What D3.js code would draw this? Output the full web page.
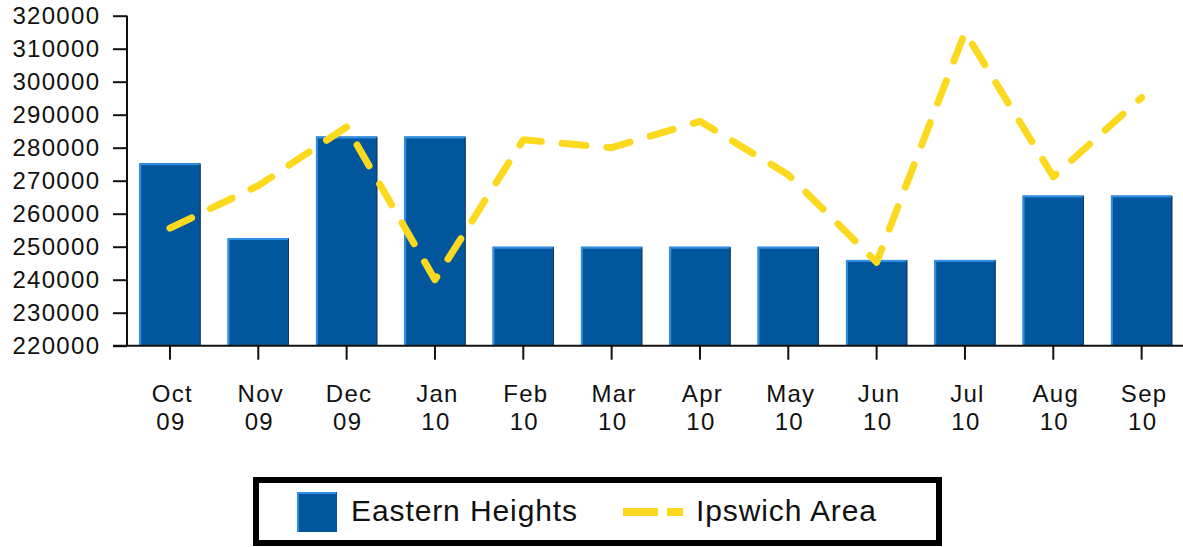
<!DOCTYPE html>
<html>
<head>
<meta charset="utf-8">
<script src="https://cdn.jsdelivr.net/npm/d3@7"></script>
<style>
  body { margin: 0; background: #fff; }
  svg { display: block; }
  .tick-label { font-family: "Liberation Sans", Arial, sans-serif; font-size: 24px; letter-spacing: 1.3px; fill: #111; }
  .legend-text { font-family: "Liberation Sans", Arial, sans-serif; font-size: 30px; letter-spacing: 0.9px; fill: #111; }
</style>
</head>
<body>
<script>
const months = ["Oct", "Nov", "Dec", "Jan", "Feb", "Mar", "Apr", "May", "Jun", "Jul", "Aug", "Sep"];
const years = ["09", "09", "09", "10", "10", "10", "10", "10", "10", "10", "10", "10"];
const easternHeights = [275300, 252600, 283400, 283400, 250000, 250000, 250000, 250000, 246000, 246000, 265500, 265500];
const ipswichArea = [255600, 268500, 286300, 240000, 282400, 280000, 288000, 271800, 245300, 315000, 271200, 295200];
const yTicks = [220000, 230000, 240000, 250000, 260000, 270000, 280000, 290000, 300000, 310000, 320000];
const seriesNames = ["Eastern Heights", "Ipswich Area"];

const W = 1183, H = 547;
const svg = d3.select("body").append("svg")
  .attr("width", W)
  .attr("height", H);

const x = d3.scaleBand()
  .domain(months)
  .range([125.8, 1185.8])
  .paddingInner(0.305)
  .paddingOuter(0.1525);

const y = d3.scaleLinear()
  .domain([220000, 320000])
  .range([345.7, 15.7]);

const barFill = "#02579c";
const barLight = "#2e8de4";
const lineColor = "#fcd91f";

// bars
const bars = svg.append("g").attr("class", "bars")
  .selectAll("g")
  .data(easternHeights)
  .enter().append("g");

bars.append("rect")
  .attr("x", (d, i) => x(months[i]))
  .attr("y", d => y(d))
  .attr("width", x.bandwidth())
  .attr("height", d => y(220000) - y(d))
  .attr("fill", barFill);

// light edge left + top
bars.append("path")
  .attr("d", (d, i) => {
    const x0 = x(months[i]) + 1, y0 = y(d) + 1;
    return `M${x0},${y(220000)}V${y0}H${x(months[i]) + x.bandwidth() - 1}`;
  })
  .attr("fill", "none")
  .attr("stroke", barLight)
  .attr("stroke-width", 2);

// dark edge on right
bars.append("line")
  .attr("x1", (d, i) => x(months[i]) + x.bandwidth() - 0.5)
  .attr("x2", (d, i) => x(months[i]) + x.bandwidth() - 0.5)
  .attr("y1", d => y(d) + 1)
  .attr("y2", y(220000))
  .attr("stroke", "#1b3554")
  .attr("stroke-width", 1);

// line series
const line = d3.line()
  .x((d, i) => x(months[i]) + x.bandwidth() / 2)
  .y(d => y(d));

svg.append("path")
  .datum(ipswichArea)
  .attr("d", line)
  .attr("fill", "none")
  .attr("stroke", lineColor)
  .attr("stroke-width", 7)
  .attr("stroke-linecap", "round")
  .attr("stroke-linejoin", "round")
  .attr("stroke-dasharray", "24,21");

// y axis
const yAxis = d3.axisLeft(y)
  .tickValues(yTicks)
  .tickSize(14)
  .tickPadding(12.7)
  .tickFormat(d3.format("d"));

const gy = svg.append("g")
  .attr("transform", "translate(127,0)")
  .call(yAxis);
gy.select(".domain").attr("d", `M0,${y(320000)}V${y(220000)}`).attr("stroke", "#111").attr("stroke-width", 2);
gy.selectAll(".tick line").attr("stroke", "#111").attr("stroke-width", 2);
gy.selectAll(".tick text").attr("class", "tick-label").attr("font-size", null).attr("font-family", null);

// x axis
const xAxis = d3.axisBottom(x).tickSize(14).tickFormat("");
const gx = svg.append("g")
  .attr("transform", `translate(0,${y(220000)})`)
  .call(xAxis);
gx.select(".domain").attr("d", "M113,0H1183").attr("stroke", "#111").attr("stroke-width", 2);
gx.selectAll(".tick line").attr("stroke", "#111").attr("stroke-width", 2);

const xl = gx.selectAll(".tick text")
  .attr("class", "tick-label")
  .attr("font-size", null).attr("font-family", null)
  .attr("y", 0).attr("dy", null)
  .attr("text-anchor", "middle");
xl.append("tspan").attr("x", 2.5).attr("y", 56).text((d, i) => months[i]);
xl.append("tspan").attr("x", 1).attr("y", 84).text((d, i) => years[i]);

// legend
const legend = svg.append("g").attr("class", "legend");
legend.append("rect")
  .attr("x", 256).attr("y", 480)
  .attr("width", 683).attr("height", 63)
  .attr("fill", "#fff")
  .attr("stroke", "#000")
  .attr("stroke-width", 6);

legend.append("rect")
  .attr("x", 297).attr("y", 492)
  .attr("width", 40).attr("height", 40)
  .attr("fill", barFill);
legend.append("path")
  .attr("d", "M298,532V493H336")
  .attr("fill", "none")
  .attr("stroke", barLight)
  .attr("stroke-width", 2);
legend.append("text")
  .attr("class", "legend-text")
  .attr("x", 351).attr("y", 521)
  .text(seriesNames[0]);

legend.append("line")
  .attr("x1", 623).attr("x2", 683)
  .attr("y1", 512).attr("y2", 512)
  .attr("stroke", lineColor)
  .attr("stroke-width", 8)
  .attr("stroke-dasharray", "35,9");
legend.append("text")
  .attr("class", "legend-text")
  .attr("x", 696).attr("y", 521)
  .text(seriesNames[1]);
</script>
</body>
</html>
